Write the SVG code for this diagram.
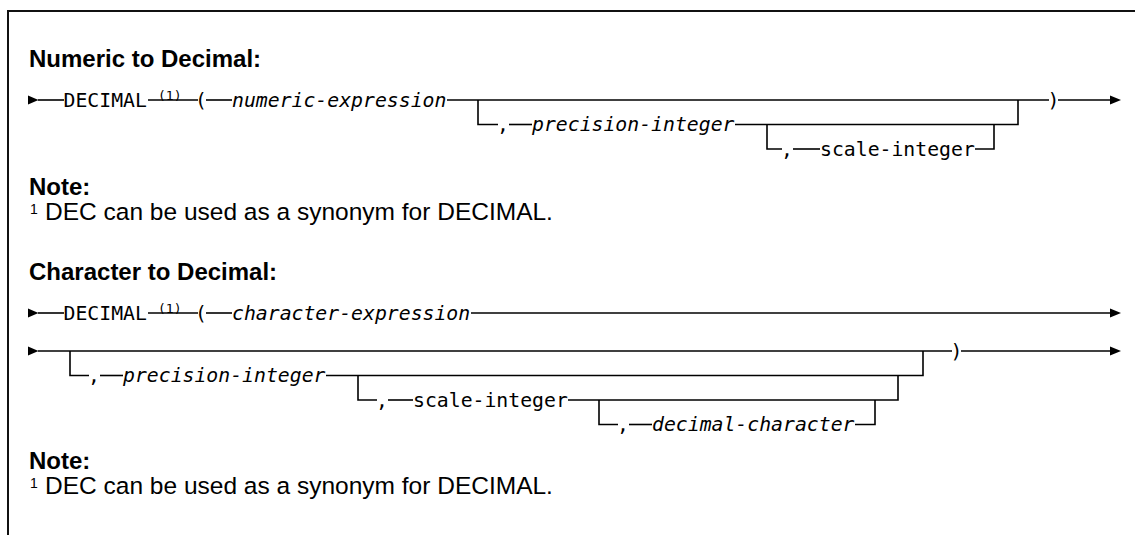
<svg xmlns="http://www.w3.org/2000/svg" width="1135" height="535" viewBox="0 0 1135 535">
<defs>
<style>
.frame{fill:none;stroke:#111;stroke-width:2}
.ln{fill:none;stroke:#000;stroke-width:1.6}
.arr{fill:#000}
.mono{font-family:"DejaVu Sans Mono","Liberation Mono",monospace;font-size:19.8px;fill:#000}
.it{font-style:italic}
.sup{font-family:"DejaVu Sans Mono","Liberation Mono",monospace;font-size:13px;fill:#000}
.title{font-family:"Liberation Sans",Arial,sans-serif;font-weight:bold;font-size:24px;fill:#000}
.note{font-family:"Liberation Sans",Arial,sans-serif;font-size:24.5px;fill:#000}
.nsup{font-family:"Liberation Sans",Arial,sans-serif;font-size:14px;fill:#000}
</style>
</defs>
<rect width="1135" height="535" fill="#fff"/>
<path class="frame" d="M8,536 V11 H1135"/>

<g id="connectors">
<!-- section 1 -->
<polygon class="arr" points="28,95.5 38.5,100 28,104.5"/>
<path class="ln" d="M38,100 H64"/>
<path class="ln" d="M148,100 H198"/>
<path class="ln" d="M206,100 H232"/>
<path class="ln" d="M447,100 H1049"/>
<path class="ln" d="M1058,100 H1111"/>
<polygon class="arr" points="1110,95.5 1121,100 1110,104.5"/>
<path class="ln" d="M478,100 V124.5 H498"/>
<path class="ln" d="M509,124.5 H532"/>
<path class="ln" d="M735,124.5 H1018 V100"/>
<path class="ln" d="M767,124.5 V149 H782"/>
<path class="ln" d="M793,149 H820"/>
<path class="ln" d="M975,149 H994 V124.5"/>
<!-- section 2 -->
<polygon class="arr" points="28,308.5 38.5,313 28,317.5"/>
<path class="ln" d="M38,313 H64"/>
<path class="ln" d="M148,313 H198"/>
<path class="ln" d="M206,313 H232"/>
<path class="ln" d="M471,313 H1111"/>
<polygon class="arr" points="1110,308.5 1121,313 1110,317.5"/>
<polygon class="arr" points="28,346.5 38.5,351 28,355.5"/>
<path class="ln" d="M38,351 H952"/>
<path class="ln" d="M961,351 H1111"/>
<polygon class="arr" points="1110,346.5 1121,351 1110,355.5"/>
<path class="ln" d="M70,351 V375.5 H89"/>
<path class="ln" d="M100,375.5 H123"/>
<path class="ln" d="M326,375.5 H923 V351"/>
<path class="ln" d="M358,375.5 V400 H377"/>
<path class="ln" d="M388,400 H413"/>
<path class="ln" d="M568,400 H898 V375.5"/>
<path class="ln" d="M599,400 V424.5 H618"/>
<path class="ln" d="M629,424.5 H652"/>
<path class="ln" d="M855,424.5 H875 V400"/>
</g>

<g id="title1"><text class="title" x="29" y="67">Numeric to Decimal:</text></g>
<g id="decimal1"><text class="mono" x="63.5" y="106.5">DECIMAL</text><text class="sup" x="158" y="100">(1)</text></g>
<g id="lparen1"><text class="mono" x="195" y="106.5">(</text></g>
<g id="numexpr"><text class="mono it" x="232" y="106.5">numeric-expression</text></g>
<g id="comma1"><text class="mono" x="497" y="131">,</text></g>
<g id="precision1"><text class="mono it" x="532" y="131">precision-integer</text></g>
<g id="comma2"><text class="mono" x="781" y="155.5">,</text></g>
<g id="scale1"><text class="mono" x="820" y="155.5">scale-integer</text></g>
<g id="rparen1"><text class="mono" x="1047.5" y="106.5">)</text></g>
<g id="note1"><text class="title" x="29" y="195">Note:</text><text class="nsup" x="30" y="214">1</text><text class="note" x="45" y="220">DEC can be used as a synonym for DECIMAL.</text></g>

<g id="title2"><text class="title" x="29" y="280">Character to Decimal:</text></g>
<g id="decimal2"><text class="mono" x="63.5" y="319.5">DECIMAL</text><text class="sup" x="158" y="313">(1)</text></g>
<g id="lparen2"><text class="mono" x="195" y="319.5">(</text></g>
<g id="charexpr"><text class="mono it" x="232" y="319.5">character-expression</text></g>
<g id="comma3"><text class="mono" x="88" y="382">,</text></g>
<g id="precision2"><text class="mono it" x="123" y="382">precision-integer</text></g>
<g id="comma4"><text class="mono" x="376" y="406.5">,</text></g>
<g id="scale2"><text class="mono" x="413" y="406.5">scale-integer</text></g>
<g id="comma5"><text class="mono" x="617" y="431">,</text></g>
<g id="decchar"><text class="mono it" x="652" y="431">decimal-character</text></g>
<g id="rparen2"><text class="mono" x="950.5" y="357.5">)</text></g>
<g id="note2"><text class="title" x="29" y="469">Note:</text><text class="nsup" x="30" y="488">1</text><text class="note" x="45" y="494">DEC can be used as a synonym for DECIMAL.</text></g>
</svg>
